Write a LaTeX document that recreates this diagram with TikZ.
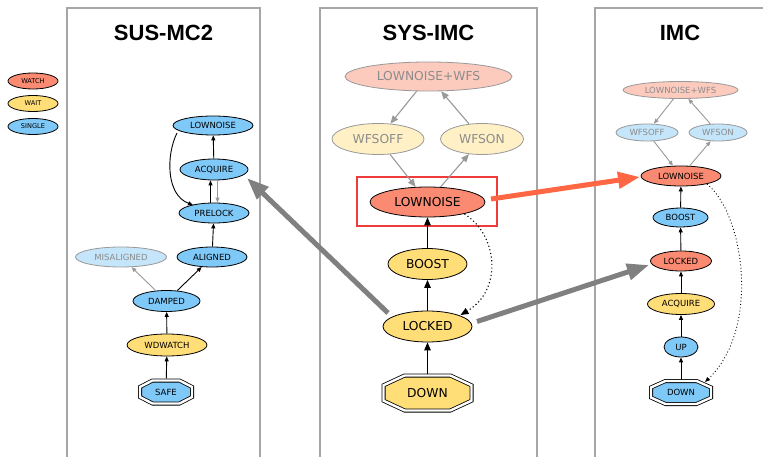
\documentclass[tikz,border=0pt]{standalone}
\usepackage{fontspec}
\setmainfont{DejaVu Sans}
\newfontfamily\titlefont{Liberation Sans}
\usetikzlibrary{shapes.geometric,arrows.meta,calc}
\pgfdeclarelayer{bg}
\pgfsetlayers{bg,main}
\definecolor{cwatch}{HTML}{FA8A72}
\definecolor{cwait}{HTML}{FFDD77}
\definecolor{csingle}{HTML}{7FC9F8}
\definecolor{fwatch}{HTML}{FDCABE}
\definecolor{fwait}{HTML}{FFF0C6}
\definecolor{fsingle}{HTML}{C4E5FA}
\definecolor{fline}{HTML}{999999}
\definecolor{ftext}{HTML}{8C8C8C}
\definecolor{bigg}{HTML}{808080}
\definecolor{orng}{HTML}{FF6644}
\definecolor{boxred}{HTML}{EE3B3B}
\definecolor{panelc}{HTML}{A6A6A6}
\newcommand{\fbig}{\fontsize{12.3}{14}\selectfont}
\newcommand{\fsmall}{\fontsize{8.5}{10}\selectfont}
\newcommand{\ftiny}{\fontsize{6.6}{8}\selectfont}
\newcommand{\octo}[2]{%
  \begin{pgfonlayer}{bg}
  \filldraw[fill=#2, draw=black, line width=0.8pt, double=white, double distance=2.4pt]
    ($(#1.north west)!0.24!(#1.north east)$) -- ($(#1.north west)!0.76!(#1.north east)$) --
    ($(#1.north east)!0.28!(#1.south east)$) -- ($(#1.north east)!0.72!(#1.south east)$) --
    ($(#1.south east)!0.24!(#1.south west)$) -- ($(#1.south east)!0.76!(#1.south west)$) --
    ($(#1.south west)!0.28!(#1.north west)$) -- ($(#1.south west)!0.72!(#1.north west)$) -- cycle;
  \end{pgfonlayer}}
\begin{document}
\begin{tikzpicture}[x=1pt,y=-1pt,
  st/.style={ellipse, draw=black, line width=0.8pt, inner sep=0pt, text=black},
  fd/.style={ellipse, draw=fline, line width=0.8pt, inner sep=0pt, text=ftext},
  oct/.style={rectangle, inner sep=0pt, outer sep=0pt, text=black},
  blk/.style={draw=black, line width=0.9pt, -{Triangle[length=5pt,width=4pt]}},
  gry/.style={draw=fline, line width=0.9pt, -{Triangle[length=5pt,width=4pt]}},
  blkb/.style={draw=black, line width=1.2pt, -{Triangle[length=8pt,width=6.5pt]}},
  gryb/.style={draw=fline, line width=1.1pt, -{Triangle[length=8pt,width=6.5pt]}},
  dotc/.style={draw=black, line width=0.9pt, dash pattern=on 0.9pt off 2.4pt, -{Triangle[length=5pt,width=4pt]}},
  dotb/.style={draw=black, line width=1.1pt, dash pattern=on 1.1pt off 2.6pt, -{Triangle[length=8pt,width=6.5pt]}},
  bigarr/.style={line width=5pt, -{Triangle[length=22pt,width=16pt]}},
  panel/.style={draw=panelc, line width=1.3pt},
  ttl/.style={font=\titlefont\bfseries\fontsize{22}{26}\selectfont, text=black}
]
\useasboundingbox (0,0) rectangle (763,457);
\begin{pgfonlayer}{bg}
\fill[white] (0,0) rectangle (763,457);
\end{pgfonlayer}

% panels
\draw[panel] (67,457) -- (67,8) -- (260,8) -- (260,457);
\draw[panel] (320,457) -- (320,8) -- (537,8) -- (537,457);
\draw[panel] (595,457) -- (595,8) -- (763,8);

\node[ttl] (t1) at (163.5,33) {SUS-MC2};
\node[ttl] (t2) at (428.5,33) {SYS-IMC};
\node[ttl] (t3) at (680,33) {IMC};

% legend
\node[st, fill=cwatch, font=\ftiny, minimum width=50pt, minimum height=16pt] (lwatch) at (33,81) {WATCH};
\node[st, fill=cwait, font=\ftiny, minimum width=50pt, minimum height=16pt] (lwait) at (33,103.5) {WAIT};
\node[st, fill=csingle, font=\ftiny, minimum width=50pt, minimum height=16pt] (lsingle) at (33,126.5) {SINGLE};

% panel 1: SUS-MC2
\begin{scope}[every node/.append style={font=\fsmall}]
\node[st, fill=csingle, minimum width=80pt, minimum height=19pt] (s1low) at (213,125.5) {LOWNOISE};
\node[st, fill=csingle, minimum width=68pt, minimum height=21pt] (s1acq) at (214,169.5) {ACQUIRE};
\node[st, fill=csingle, minimum width=70pt, minimum height=20pt] (s1pre) at (214,213) {PRELOCK};
\node[st, fill=csingle, minimum width=70pt, minimum height=20pt] (s1ali) at (212,257) {ALIGNED};
\node[fd, fill=fsingle, minimum width=91pt, minimum height=20pt] (s1mis) at (121,257) {MISALIGNED};
\node[st, fill=csingle, minimum width=67pt, minimum height=21pt] (s1dam) at (166.5,301) {DAMPED};
\node[st, fill=cwait, minimum width=80pt, minimum height=22pt] (s1wdw) at (167,345) {WDWATCH};
\node[oct, minimum width=52pt, minimum height=23pt] (s1safe) at (166,392) {SAFE};
\end{scope}
\octo{s1safe}{csingle}

\draw[blk] (s1acq) -- (s1low);
\draw[blk] ([shift={(-36,7.5)}]s1low.center) .. controls (166,155) and (166,195) .. ([shift={(-21,-8)}]s1pre.center);
\draw[blk] ([xshift=-3.5pt]s1pre.north) -- ([xshift=-3.5pt]s1acq.south);
\draw[gry] ([xshift=3.5pt]s1acq.south) -- ([xshift=3.5pt]s1pre.north);
\draw[blk] (s1ali) -- (s1pre);
\draw[blk] (s1dam) -- (s1ali);
\draw[gry] (s1dam) -- (s1mis);
\draw[blk] (s1wdw) -- (s1dam);
\draw[blk, shorten <=2pt] (s1safe) -- (s1wdw);

% panel 2: SYS-IMC
\begin{scope}[every node/.append style={font=\fbig}]
\node[fd, fill=fwatch, minimum width=167pt, minimum height=29pt] (s2lnw) at (428.5,76.5) {LOWNOISE+WFS};
\node[fd, fill=fwait, minimum width=92pt, minimum height=31pt] (s2off) at (378,139) {WFSOFF};
\node[fd, fill=fwait, minimum width=83pt, minimum height=31pt] (s2on) at (482,139) {WFSON};
\node[st, fill=cwatch, minimum width=115pt, minimum height=30pt] (s2low) at (427.5,202) {LOWNOISE};
\node[st, fill=cwait, minimum width=79pt, minimum height=31pt] (s2boost) at (427.5,264) {BOOST};
\node[st, fill=cwait, minimum width=89pt, minimum height=31pt] (s2lock) at (427.5,326.5) {LOCKED};
\node[oct, minimum width=88pt, minimum height=35pt] (s2down) at (427.5,393) {DOWN};
\end{scope}
\octo{s2down}{cwait}
\node[draw=boxred, line width=1.2pt, minimum width=140pt, minimum height=49pt, inner sep=0pt] (s2box) at (427,201.5) {};

\draw[gryb] (s2lnw) -- (s2off);
\draw[gryb] (s2on) -- (s2lnw);
\draw[gryb] (s2off) -- (s2low);
\draw[gryb] (s2low) -- (s2on);
\draw[blkb] (s2boost) -- (s2low);
\draw[blkb] (s2lock) -- (s2boost);
\draw[blkb, shorten <=2pt] (s2down) -- (s2lock);
\draw[dotb] ([shift={(37,12)}]s2low.center) .. controls (498,235) and (503,290) .. ([shift={(33,-11.5)}]s2lock.center);

% panel 3: IMC
\begin{scope}[every node/.append style={font=\fsmall}]
\node[fd, fill=fwatch, minimum width=115pt, minimum height=17pt] (s3lnw) at (680.5,90) {LOWNOISE+WFS};
\node[fd, fill=fsingle, minimum width=62pt, minimum height=17pt] (s3off) at (647,132.5) {WFSOFF};
\node[fd, fill=fsingle, minimum width=58pt, minimum height=17pt] (s3on) at (718,132.5) {WFSON};
\node[st, fill=cwatch, minimum width=80pt, minimum height=20pt] (s3low) at (681,176) {LOWNOISE};
\node[st, fill=csingle, minimum width=55pt, minimum height=19pt] (s3boost) at (680.5,217.5) {BOOST};
\node[st, fill=cwatch, minimum width=61pt, minimum height=20pt] (s3lock) at (681,261) {LOCKED};
\node[st, fill=cwait, minimum width=67pt, minimum height=21pt] (s3acq) at (681,304) {ACQUIRE};
\node[st, fill=csingle, minimum width=34pt, minimum height=20pt] (s3up) at (681,347) {UP};
\node[oct, minimum width=60pt, minimum height=23pt] (s3down) at (681,392.5) {DOWN};
\end{scope}
\octo{s3down}{csingle}

\draw[gry] (s3lnw) -- (s3off);
\draw[gry] (s3on) -- (s3lnw);
\draw[gry] (s3off) -- (s3low);
\draw[gry] (s3low) -- (s3on);
\draw[blk] (s3boost) -- (s3low);
\draw[blk] (s3lock) -- (s3boost);
\draw[blk] (s3acq) -- (s3lock);
\draw[blk] (s3up) -- (s3acq);
\draw[blk, shorten <=2pt] (s3down) -- (s3up);
\draw[dotc] ([shift={(26,8)}]s3low.center) .. controls (745,215) and (760,330) .. ([shift={(24,-10.5)}]s3down.center);

% cross-panel arrows
\draw[bigarr, bigg] ([shift={(-39.5,-13.5)}]s2lock.center) -- ([shift={(33,8.5)}]s1acq.center);
\draw[bigarr, bigg] ([shift={(49.5,-5)}]s2lock.center) -- ([shift={(-32,4)}]s3lock.center);
\draw[bigarr, orng] ([shift={(63.5,-3)}]s2low.center) -- ([shift={(-41,1)}]s3low.center);
\end{tikzpicture}
\end{document}
